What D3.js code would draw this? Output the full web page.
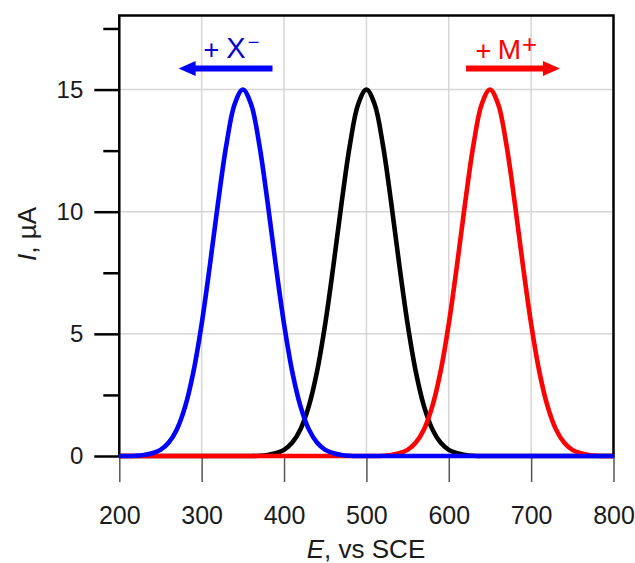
<!DOCTYPE html>
<html><head><meta charset="utf-8">
<script src="https://cdn.jsdelivr.net/npm/d3@7/dist/d3.min.js"></script>
<style>body{margin:0;background:#fff} svg{display:block;font-family:"Liberation Sans",Arial,sans-serif}</style>
</head><body><svg id="c" width="635" height="563"></svg>
<script>
// ---- data ----
const potential = [200,210,220,230,240,250,260,270,280,290,300,310,320,330,340,350,360,370,380,390,400,410,420,430,440,450,460,470,480,490,500,510,520,530,540,550,560,570,580,590,600,610,620,630,640,650,660,670,680,690,700,710,720,730,740,750,760,770,780,790,800];
const currentBlack = [0,0,0,0,0,0,0,0,0,0,0,0,0,0,0,0,0,0.01,0.04,0.11,0.25,0.55,1.10,2.03,3.45,5.41,7.81,10.39,12.74,14.40,15.00,14.40,12.74,10.39,7.81,5.41,3.45,2.03,1.10,0.55,0.25,0.11,0.04,0.01,0,0,0,0,0,0,0,0,0,0,0,0,0,0,0,0,0];
const currentRed = [0,0,0,0,0,0,0,0,0,0,0,0,0,0,0,0,0,0,0,0,0,0,0,0,0,0,0,0,0,0,0,0,0.01,0.04,0.11,0.25,0.55,1.10,2.03,3.45,5.41,7.81,10.39,12.74,14.40,15.00,14.40,12.74,10.39,7.81,5.41,3.45,2.03,1.10,0.55,0.25,0.11,0.04,0.01,0,0];
const currentBlue = [0,0,0.01,0.04,0.11,0.25,0.55,1.10,2.03,3.45,5.41,7.81,10.39,12.74,14.40,15.00,14.40,12.74,10.39,7.81,5.41,3.45,2.03,1.10,0.55,0.25,0.11,0.04,0.01,0,0,0,0,0,0,0,0,0,0,0,0,0,0,0,0,0,0,0,0,0,0,0,0,0,0,0,0,0,0,0,0];
const xTicks = [200,300,400,500,600,700,800];
const xGrid = [300,400,500,600,700];
const yMajorTicks = [0,5,10,15];
const yMinorTicks = [2.5,7.5,12.5,17.5];
const yGrid = [5,10,15];
const xDomain = [200,800];
const yDomain = [0,18];
// annotation arrows (data units): [from, to, level]
const arrowBlue = [386, 272, 15.86];
const arrowRed = [621, 735, 15.86];

// ---- drawing ----
const svg = d3.select("#c");
const FONT = '"Liberation Sans",Arial,sans-serif';
const L = 119.3, R = 613.5, B = 456, T = 15.5;
const x = d3.scaleLinear().domain(xDomain).range([L, R]);
const y = d3.scaleLinear().domain(yDomain).range([B, B - 18*24.43]);

// grid
svg.append("g").selectAll("line").data(xGrid).join("line")
  .attr("x1", d => x(d)).attr("x2", d => x(d)).attr("y1", T).attr("y2", B)
  .attr("stroke", "#d6d6d6").attr("stroke-width", 1.5);
svg.append("g").selectAll("line").data(yGrid).join("line")
  .attr("x1", L).attr("x2", R).attr("y1", d => y(d)).attr("y2", d => y(d))
  .attr("stroke", "#d6d6d6").attr("stroke-width", 1.5);

// x axis ticks
const gx = svg.append("g").attr("transform", `translate(0,${B})`)
  .call(d3.axisBottom(x).tickValues(xTicks).tickSize(26).tickPadding(0).tickFormat(d3.format("d")));
gx.select(".domain").remove();
gx.selectAll(".tick line").attr("stroke", "#555").attr("stroke-width", 1.5);
gx.selectAll(".tick text").attr("y", 68).attr("dy", 0).attr("fill", "#1a1a1a")
  .style("font-size", "25px").style("font-family", FONT);

// y axis major
const gy = svg.append("g").attr("transform", `translate(${L},0)`)
  .call(d3.axisLeft(y).tickValues(yMajorTicks).tickSize(25).tickPadding(11).tickFormat(d3.format("d")));
gy.select(".domain").remove();
gy.selectAll(".tick line").attr("stroke", "#000").attr("stroke-width", 2.5);
gy.selectAll(".tick text").attr("fill", "#1a1a1a")
  .style("font-size", "24px").style("font-family", FONT);
// y axis minor
const gym = svg.append("g").attr("transform", `translate(${L},0)`)
  .call(d3.axisLeft(y).tickValues(yMinorTicks).tickSize(16).tickFormat(""));
gym.select(".domain").remove();
gym.selectAll(".tick line").attr("stroke", "#000").attr("stroke-width", 2.5);

// frame
svg.append("path")
  .attr("d", `M${L},${B}V${T}H${R}V${B}H${L}`)
  .attr("fill", "none").attr("stroke", "#000").attr("stroke-width", 2.5);

// curves
const line = d3.line().x((d, i) => x(potential[i])).y(d => y(d)).curve(d3.curveCatmullRom);
[[currentBlack, "#000000"], [currentRed, "#ff0000"], [currentBlue, "#0000ff"]].forEach(([s, c]) => {
  svg.append("path").datum(s).attr("d", line)
    .attr("fill", "none").attr("stroke", c).attr("stroke-width", 4.6)
    .attr("stroke-linejoin", "round").attr("stroke-linecap", "butt");
});

// arrows
function arrow(a, color) {
  const x0 = x(a[0]), x1 = x(a[1]), yy = y(a[2]);
  const dir = Math.sign(x1 - x0), head = 17, hw = 7.5;
  svg.append("line").attr("x1", x0).attr("x2", x1 - dir*head + dir*1).attr("y1", yy).attr("y2", yy)
    .attr("stroke", color).attr("stroke-width", 6);
  svg.append("path").attr("d", `M${x1},${yy}L${x1 - dir*head},${yy - hw}L${x1 - dir*head},${yy + hw}Z`)
    .attr("fill", color);
}
arrow(arrowBlue, "#0000ff");
arrow(arrowRed, "#ff0000");

// annotation labels
function txt(s, xx, yy, size, color) {
  return svg.append("text").attr("x", xx).attr("y", yy).attr("fill", color)
    .attr("text-anchor", "middle").style("font-size", size + "px").text(s);
}
txt("+", 211.5, 59, 27, "#0000cc");
txt("X", 236, 58, 29, "#0000cc");
txt("\u2212", 253.5, 48.5, 20, "#0000cc");
txt("+", 483.5, 59.5, 27, "#ff0000");
txt("M", 509.5, 58.5, 28, "#ff0000");
txt("+", 529.5, 52.5, 26, "#ff0000");

// axis titles
const xt = svg.append("text").attr("x", 366).attr("y", 558).attr("text-anchor", "middle")
  .attr("fill", "#1a1a1a").style("font-size", "26px");
xt.append("tspan").style("font-style", "italic").text("E");
xt.append("tspan").text(", vs SCE");
const yt = svg.append("text").attr("transform", "translate(36,234) rotate(-90)").attr("text-anchor", "middle")
  .attr("fill", "#1a1a1a").style("font-size", "26px");
yt.append("tspan").style("font-style", "italic").text("I");
yt.append("tspan").text(", \u00b5A");
</script></body></html>
